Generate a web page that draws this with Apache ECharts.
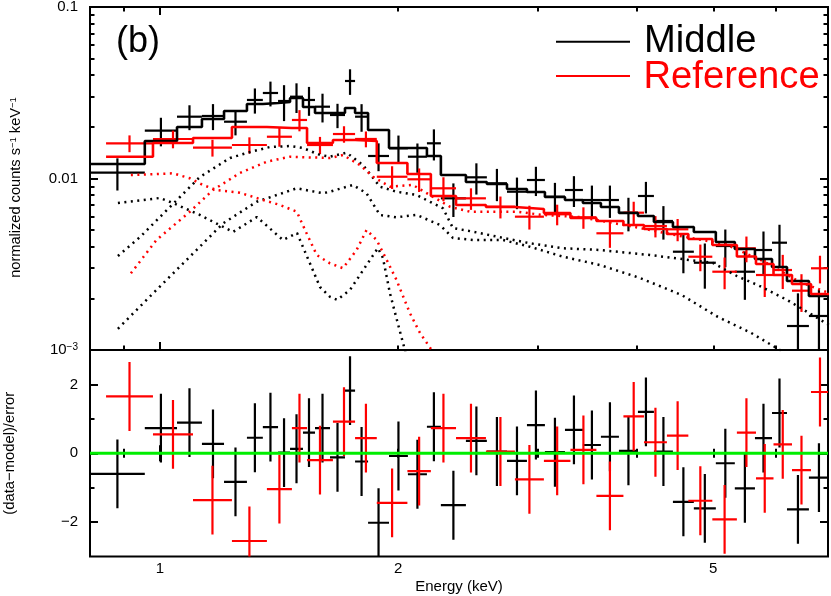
<!DOCTYPE html>
<html>
<head>
<meta charset="utf-8">
<script src="https://cdn.jsdelivr.net/npm/echarts@6.0.0/dist/echarts.min.js"></script>
<style>
  html, body { margin: 0; padding: 0; background: #fff; }
  #chart { width: 831px; height: 596px; }
</style>
</head>
<body>
<div id="chart"></div>
<script>
// energy range of both panels (keV)
const E_MIN = 0.816
const E_MAX = 6.98

// Middle (black) spectrum: bin edges, flux, 1-sigma error, model, residual
const blackEdges = [0.816, 0.957, 1.051, 1.130, 1.205, 1.288, 1.349, 1.410, 1.460, 1.516, 1.570, 1.640, 1.713,
  1.764, 1.832, 1.947, 2.057, 2.174, 2.264, 2.435, 2.588, 2.744, 2.908, 3.064, 3.248, 3.422, 3.606, 3.800,
  4.016, 4.207, 4.446, 4.725, 5.037, 5.323, 5.644, 5.931, 6.195, 6.603, 7.0]
const blackFlux = [0.01081, 0.0190, 0.02293, 0.02315, 0.02144, 0.02870, 0.03152, 0.02831, 0.02999, 0.02870,
  0.02622, 0.02346, 0.03703, 0.02293, 0.01353, 0.01500, 0.01340, 0.01604, 0.007663, 0.01016, 0.009376,
  0.008375, 0.009801, 0.007831, 0.008569, 0.007492, 0.007492, 0.006319, 0.007907, 0.005652, 0.003742,
  0.003228, 0.004040, 0.002861, 0.003828, 0.004223, 0.001380, 0.001579]
const blackErr = [0.0023, 0.0036, 0.0038, 0.0040, 0.0036, 0.0048, 0.0052, 0.0067, 0.0059, 0.0055, 0.0050,
  0.0038, 0.0063, 0.0042, 0.0025, 0.0028, 0.0026, 0.0033, 0.0017, 0.0021, 0.0020, 0.00175, 0.0019, 0.0016,
  0.00175, 0.0016, 0.0016, 0.0014, 0.00165, 0.00125, 0.00094, 0.00095, 0.0010, 0.0009, 0.00108, 0.00115,
  0.00076, 0.00066]
const blackModel = [0.01215, 0.01655, 0.01996, 0.02222, 0.02474, 0.02719, 0.02756, 0.02793, 0.02947, 0.02611,
  0.02408, 0.02408, 0.02576, 0.02408, 0.01917, 0.01506, 0.01506, 0.01353, 0.01048, 0.009541, 0.009288,
  0.008686, 0.008341, 0.007801, 0.007492, 0.007194, 0.006822, 0.006293, 0.006044, 0.005577, 0.005215,
  0.004875, 0.004264, 0.003881, 0.003393, 0.003048, 0.002525, 0.002065]
const blackResid = [-0.60, 0.73, 0.89, 0.27, -0.83, 0.45, 0.76, 0.02, 0.13, 0.60, 0.73, -0.12, 1.82, -0.24,
  -2.02, -0.08, -0.61, 0.77, -1.51, 0.36, 0.05, -0.22, 0.82, 0.03, 0.68, 0.24, 0.48, 0.07, 1.20, 0.05,
  -1.41, -1.60, -0.29, -1.02, 0.44, 1.17, -1.63, -0.71]

// Reference (red) spectrum
const redEdges = [0.855, 0.980, 1.101, 1.233, 1.365, 1.468, 1.534, 1.654, 1.764, 1.879, 2.054, 2.199, 2.366,
  2.581, 2.808, 3.055, 3.300, 3.559, 3.850, 4.087, 4.369, 4.650, 4.986, 5.355, 5.661, 5.957, 6.286, 6.643, 7.0]
const redFlux = [0.01604, 0.01700, 0.01512, 0.01568, 0.01752, 0.02194, 0.01568, 0.01817, 0.01700, 0.01024,
  0.009893, 0.008768, 0.007663, 0.006850, 0.005989, 0.006185, 0.005941, 0.004792, 0.006319, 0.005284,
  0.005057, 0.003499, 0.002861, 0.003917, 0.002737, 0.002927, 0.002217, 0.002995]
const redErr = [0.0018, 0.0020, 0.0017, 0.0017, 0.0022, 0.0031, 0.0018, 0.0020, 0.0018, 0.00155, 0.00155,
  0.0014, 0.0011, 0.0010, 0.00095, 0.00085, 0.00085, 0.00085, 0.0010, 0.00075, 0.00075, 0.00062, 0.0006,
  0.00067, 0.0007, 0.00066, 0.00055, 0.00055]
const redModel = [0.01340, 0.01611, 0.01722, 0.01996, 0.01970, 0.01970, 0.01611, 0.01677, 0.01655, 0.01231,
  0.01062, 0.007907, 0.007008, 0.006822, 0.006642, 0.006293, 0.005885, 0.005652, 0.005357, 0.005077,
  0.004746, 0.004437, 0.004095, 0.003509, 0.003174, 0.002737, 0.002425, 0.002121]
const redResid = [1.65, 0.55, -1.36, -2.55, -1.04, 0.73, -0.20, 0.92, 0.44, -1.44, -0.52, 0.73, 0.44, 0.05,
  -0.76, -0.22, 0.10, -1.24, 1.07, 0.32, 0.51, -1.38, -1.92, 0.60, -0.73, 0.26, -0.49, 1.78]

// model components [keV, counts/s/keV]
const compBlackA = [[0.885, 0.00353], [0.944, 0.00456], [1.0, 0.00596], [1.060, 0.0078], [1.123, 0.0102],
  [1.226, 0.01317], [1.300, 0.01427], [1.377, 0.01526], [1.460, 0.01547], [1.516, 0.01506], [1.593, 0.01371],
  [1.640, 0.0134], [1.721, 0.01413], [1.805, 0.01199], [1.896, 0.00896], [1.990, 0.00838], [2.110, 0.00801],
  [2.193, 0.00732], [2.278, 0.0067], [2.345, 0.00514], [2.485, 0.0049], [2.666, 0.00458], [2.933, 0.00419],
  [3.229, 0.00392], [3.595, 0.00383], [4.158, 0.00358], [4.993, 0.00322], [5.355, 0.0027], [5.725, 0.00236],
  [6.194, 0.00196], [6.567, 0.00167], [6.997, 0.0014]]
const compBlackB = [[0.885, 0.00719], [1.0, 0.0077], [1.039, 0.00719], [1.123, 0.00613], [1.237, 0.00488],
  [1.326, 0.00596], [1.430, 0.00438], [1.490, 0.00481], [1.593, 0.00233], [1.640, 0.00204], [1.674, 0.00196],
  [1.738, 0.00224], [1.824, 0.00313], [1.885, 0.00393], [1.913, 0.00344], [1.952, 0.00215], [1.992, 0.0015],
  [2.039, 0.001], [2.069, 0.00076]]
const compBlackC = [[0.885, 0.00133], [0.990, 0.00224], [1.091, 0.0035], [1.202, 0.00548], [1.325, 0.00732],
  [1.489, 0.00877], [1.607, 0.0082], [1.640, 0.00838], [1.753, 0.00917], [1.824, 0.0082], [1.896, 0.00613],
  [1.990, 0.00594], [2.110, 0.00613], [2.258, 0.00536], [2.345, 0.0045], [2.485, 0.00438], [2.713, 0.00438],
  [2.933, 0.004], [3.229, 0.0035], [3.595, 0.00313], [4.040, 0.00263], [4.563, 0.00209], [5.066, 0.00156],
  [5.578, 0.00126], [6.069, 0.001], [6.25, 0.00092]]
const compRedA = [[0.919, 0.0028], [0.990, 0.00438], [1.091, 0.0064], [1.167, 0.00857], [1.262, 0.01077],
  [1.364, 0.01253], [1.460, 0.0134], [1.532, 0.01329], [1.640, 0.01317], [1.703, 0.01371], [1.789, 0.01199],
  [1.858, 0.01024], [1.952, 0.00896], [2.087, 0.00917], [2.193, 0.00801], [2.324, 0.00685], [2.464, 0.0064],
  [2.666, 0.0064], [2.825, 0.0064], [3.047, 0.00613], [3.392, 0.00596], [3.925, 0.00528], [4.537, 0.00462],
  [5.170, 0.00415], [5.809, 0.00326], [6.435, 0.00249], [6.997, 0.00215]]
const compRedB = [[0.919, 0.01048], [0.990, 0.01062], [1.039, 0.01072], [1.091, 0.01003], [1.133, 0.00917],
  [1.179, 0.00857], [1.262, 0.00826], [1.350, 0.00749], [1.418, 0.00701], [1.489, 0.0064], [1.532, 0.00479],
  [1.578, 0.00358], [1.640, 0.0032], [1.703, 0.003], [1.772, 0.00383], [1.824, 0.00501], [1.878, 0.00438],
  [1.934, 0.00335], [1.990, 0.00256], [2.069, 0.00164], [2.130, 0.00126], [2.204, 0.001], [2.258, 0.00082]]

// ticks and labels
const xMajorTicks = [1]
const xMinorTicks = [0.9, 2, 3, 4, 5, 6]
const xLabels = [1, 2, 5]
const yTopMajor = [0.001, 0.01, 0.1]
const yTopMinor = [0.002, 0.003, 0.004, 0.005, 0.006, 0.007, 0.008, 0.009,
  0.02, 0.03, 0.04, 0.05, 0.06, 0.07, 0.08, 0.09]
const yResMajor = [-2, 0, 2]
const yResMinor = [-1, 1]

const FONT = 'Liberation Sans, Arial, Helvetica, sans-serif'
const BLACK = '#000000'
const RED = '#ff0000'

function xAxisDef(gridIndex, position, ticks, len, labels) {
  return {
    type: 'log', gridIndex, position, min: E_MIN, max: E_MAX,
    axisLine: { show: false },
    splitLine: { show: false },
    axisTick: { show: true, inside: true, length: len, customValues: ticks, lineStyle: { color: BLACK, width: 2 } },
    axisLabel: labels
      ? { show: true, customValues: labels, margin: 5, fontSize: 15, color: BLACK, fontFamily: FONT }
      : { show: false }
  }
}

function yAxisDef(gridIndex, type, position, min, max, ticks, len, label) {
  return Object.assign({
    type, gridIndex, position, min, max,
    axisLine: { show: false },
    splitLine: { show: false },
    axisTick: { show: true, inside: true, length: len, customValues: ticks, lineStyle: { color: BLACK, width: 2 } },
    axisLabel: { show: false }
  }, label || {})
}

function stepData(edges, vals) {
  const pts = []
  vals.forEach((v, i) => {
    pts.push([edges[i], v], [edges[i + 1], v])
  })
  return pts
}

function crosses(edges, vals, errs, color, xi, yi) {
  const data = vals.map((v, i) => [edges[i], edges[i + 1], v, Array.isArray(errs) ? errs[i] : errs])
  return {
    type: 'custom', xAxisIndex: xi, yAxisIndex: yi, clip: true, silent: true,
    data,
    encode: { x: [0, 1], y: 2 },
    renderItem: (params, api) => {
      const lo = api.value(0)
      const hi = api.value(1)
      const v = api.value(2)
      const e = api.value(3)
      const c = Math.sqrt(lo * hi)
      const a = api.coord([lo, v])
      const b = api.coord([hi, v])
      const t = api.coord([c, v + e])
      const d = api.coord([c, v - e])
      const style = { stroke: color, lineWidth: 2.2 }
      return {
        type: 'group',
        children: [
          { type: 'line', shape: { x1: a[0], y1: a[1], x2: b[0], y2: b[1] }, style },
          { type: 'line', shape: { x1: t[0], y1: t[1], x2: d[0], y2: d[1] }, style }
        ]
      }
    }
  }
}

function dotted(data, color) {
  return {
    type: 'line', xAxisIndex: 0, yAxisIndex: 0, data, showSymbol: false, silent: true,
    lineStyle: { color, width: 2.5, type: [2, 4.5] }
  }
}

function step(name, edges, vals, color) {
  return {
    name, type: 'line', xAxisIndex: 0, yAxisIndex: 0, data: stepData(edges, vals), showSymbol: false,
    silent: true, lineStyle: { color, width: 2.6 }
  }
}

const chart = echarts.init(document.getElementById('chart'))

const option = {
  animation: false,
  backgroundColor: '#fff',
  textStyle: { fontFamily: FONT },
  grid: [
    { left: 90, right: 3, top: 7, height: 343, show: true, borderColor: BLACK, borderWidth: 2, outerBoundsMode: 'none' },
    { left: 90, right: 3, top: 350, height: 206.5, show: true, borderColor: BLACK, borderWidth: 2, outerBoundsMode: 'none' }
  ],
  xAxis: [
    xAxisDef(0, 'bottom', xMajorTicks, 8),
    xAxisDef(0, 'bottom', xMinorTicks, 4.5),
    xAxisDef(0, 'top', xMajorTicks, 8),
    xAxisDef(0, 'top', xMinorTicks, 4.5),
    xAxisDef(1, 'top', xMajorTicks, 8),
    xAxisDef(1, 'top', xMinorTicks, 4.5),
    Object.assign(xAxisDef(1, 'bottom', xMajorTicks, 8, xLabels), {
      name: 'Energy (keV)', nameLocation: 'middle', nameGap: 23,
      nameTextStyle: { fontSize: 15, color: BLACK, fontFamily: FONT }
    }),
    xAxisDef(1, 'bottom', xMinorTicks, 4.5)
  ],
  yAxis: [
    yAxisDef(0, 'log', 'left', 0.001, 0.1, yTopMajor, 8, {
      axisLabel: {
        show: true, customValues: yTopMajor, margin: 12, fontSize: 15, color: BLACK, fontFamily: FONT,
        formatter: v => v < 0.005 ? '{n|10}{s|−3}' : (v < 0.05 ? '0.01' : '0.1'),
        rich: { n: { fontSize: 15, color: BLACK, fontFamily: FONT }, s: { fontSize: 10, verticalAlign: 'top', color: BLACK, fontFamily: FONT } }
      },
      name: 'normalized counts s{s|−1} keV{s|−1}', nameLocation: 'middle', nameRotate: 90, nameGap: 67,
      nameTextStyle: {
        fontSize: 14.6, color: BLACK, fontFamily: FONT, padding: [0, 18, 0, 0],
        rich: { s: { fontSize: 9.5, verticalAlign: 'top', color: BLACK, fontFamily: FONT } }
      }
    }),
    yAxisDef(0, 'log', 'left', 0.001, 0.1, yTopMinor, 4.5),
    yAxisDef(0, 'log', 'right', 0.001, 0.1, yTopMajor, 8),
    yAxisDef(0, 'log', 'right', 0.001, 0.1, yTopMinor, 4.5),
    yAxisDef(1, 'value', 'left', -3, 3, yResMajor, 8, {
      axisLabel: {
        show: true, customValues: yResMajor, margin: 12, fontSize: 15, color: BLACK, fontFamily: FONT,
        formatter: v => v < 0 ? '−' + Math.abs(v) : String(v)
      },
      name: '(data−model)/error', nameLocation: 'middle', nameRotate: 90, nameGap: 73,
      nameTextStyle: { fontSize: 14.8, color: BLACK, fontFamily: FONT }
    }),
    yAxisDef(1, 'value', 'left', -3, 3, yResMinor, 4.5),
    yAxisDef(1, 'value', 'right', -3, 3, yResMajor, 8),
    yAxisDef(1, 'value', 'right', -3, 3, yResMinor, 4.5)
  ],
  graphic: [
    { type: 'text', x: 116, y: 41.7, style: { text: '(b)', fontSize: 36, fontFamily: FONT, fill: BLACK, verticalAlign: 'middle' } },
    { type: 'line', shape: { x1: 556, y1: 41.7, x2: 630, y2: 41.7 }, style: { stroke: BLACK, lineWidth: 2 } },
    { type: 'text', x: 644, y: 41, style: { text: 'Middle', fontSize: 38.2, fontFamily: FONT, fill: BLACK, verticalAlign: 'middle' } },
    { type: 'line', shape: { x1: 556, y1: 76, x2: 630, y2: 76 }, style: { stroke: RED, lineWidth: 2 } },
    { type: 'text', x: 643.5, y: 77.7, style: { text: 'Reference', fontSize: 38.2, fontFamily: FONT, fill: RED, verticalAlign: 'middle' } }
  ],
  series: [
    dotted(compBlackA, BLACK),
    dotted(compBlackB, BLACK),
    dotted(compBlackC, BLACK),
    dotted(compRedA, RED),
    dotted(compRedB, RED),
    step('Middle', blackEdges, blackModel, BLACK),
    step('Reference', redEdges, redModel, RED),
    crosses(blackEdges, blackFlux, blackErr, BLACK, 0, 0),
    crosses(redEdges, redFlux, redErr, RED, 0, 0),
    crosses(blackEdges, blackResid, 1, BLACK, 6, 4),
    crosses(redEdges, redResid, 1, RED, 6, 4),
    {
      type: 'line', xAxisIndex: 6, yAxisIndex: 4, data: [[E_MIN, 0], [E_MAX, 0]], showSymbol: false, silent: true,
      z: 5, lineStyle: { color: '#00ee00', width: 3 }
    }
  ]
}

chart.setOption(option)
</script>
</body>
</html>
